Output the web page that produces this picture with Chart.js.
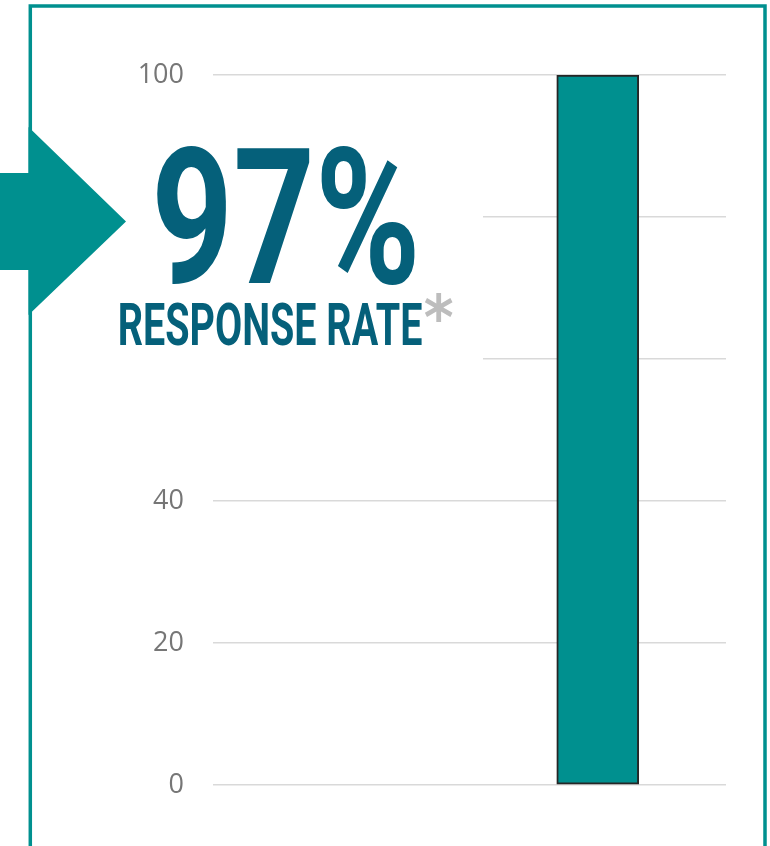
<!DOCTYPE html>
<html>
<head>
<meta charset="utf-8">
<title>Response rate</title>
<script src="https://cdn.jsdelivr.net/npm/chart.js@4/dist/chart.umd.min.js"></script>
<style>
    html, body { margin: 0; padding: 0; background: #fff; }
    #wrap { width: 770px; height: 846px; position: relative; }
</style>
</head>
<body>
<div id="wrap"><canvas id="chartRate"></canvas></div>
<script>
// ── Dati ──────────────────────────────────────
const categories     = ['', 'Response'];
const responseValues = [null, 100];
const yTickValues    = [0, 20, 40, 60, 80, 100];
const headlineValue  = '97%';
const headlineLabel  = 'RESPONSE RATE';
const headlineMark   = '*';

const TEAL      = '#00908f';
const DARK_TEAL = '#05607a';

// testo scalato per stare dentro un box (font condensato simulato)
function fitText(ctx, text, font, color, x0, y0, x1, y1) {
    ctx.save();
    ctx.font = font;
    ctx.textAlign = 'left';
    ctx.textBaseline = 'alphabetic';
    const m  = ctx.measureText(text);
    const w  = m.actualBoundingBoxLeft + m.actualBoundingBoxRight;
    const h  = m.actualBoundingBoxAscent + m.actualBoundingBoxDescent;
    const sx = (x1 - x0) / w;
    const sy = (y1 - y0) / h;
    ctx.translate(x0 + m.actualBoundingBoxLeft * sx, y0 + m.actualBoundingBoxAscent * sy);
    ctx.scale(sx, sy);
    ctx.fillStyle = color;
    ctx.fillText(text, 0, 0);
    ctx.restore();
}

// ── Overlay: cornice, freccia, titolo ─────────
const overlayPlugin = {
    id: 'overlay',
    afterDraw(chart) {
        const ctx = chart.ctx;
        ctx.save();

        // cornice
        ctx.strokeStyle = TEAL;
        ctx.lineWidth = 3.5;
        ctx.beginPath();
        ctx.moveTo(30.3, 900);
        ctx.lineTo(30.3, 6);
        ctx.lineTo(765, 6);
        ctx.lineTo(765, 900);
        ctx.stroke();

        // box bianco sotto il titolo
        ctx.fillStyle = '#fff';
        ctx.fillRect(33, 96, 450, 378);

        // freccia
        ctx.fillStyle = TEAL;
        ctx.beginPath();
        ctx.moveTo(0, 173);
        ctx.lineTo(28.5, 173);
        ctx.lineTo(28.5, 127);
        ctx.lineTo(126, 221.5);
        ctx.lineTo(28.5, 315);
        ctx.lineTo(28.5, 270);
        ctx.lineTo(0, 270);
        ctx.closePath();
        ctx.fill();
        ctx.restore();

        const f = '700 100px Roboto, Lato, "DejaVu Sans", sans-serif';
        fitText(ctx, headlineValue, f, DARK_TEAL, 157, 145, 415, 285);
        fitText(ctx, headlineLabel, f, DARK_TEAL, 120, 302, 422, 346);
        fitText(ctx, headlineMark, '700 100px "DejaVu Sans", sans-serif', '#bdbdbd', 425, 293, 453, 322);
    }
};

// ── Grafico ───────────────────────────────────
new Chart(document.getElementById('chartRate'), {
    type: 'bar',
    data: {
        labels: categories,
        datasets: [{
            data: responseValues,
            backgroundColor: TEAL,
            borderColor: '#262626',
            borderWidth: 2,
            borderSkipped: false,
            barThickness: 82
        }]
    },
    options: {
        responsive: true,
        maintainAspectRatio: false,
        animation: false,
        devicePixelRatio: 1,
        layout: { padding: { top: 75, right: 44, bottom: 61, left: 0 } },
        plugins: { legend: { display: false }, tooltip: { enabled: false } },
        scales: {
            x: { display: false },
            y: {
                min: 0, max: 100,
                afterFit: s => { s.width = 213; },
                afterBuildTicks: s => { s.ticks = yTickValues.map(v => ({ value: v })); },
                border: { display: false },
                grid: { color: '#d9d9d9', lineWidth: 1.5, drawTicks: false },
                ticks: {
                    padding: 29,
                    color: '#767676',
                    font: { family: '"Open Sans", sans-serif', size: 27 }
                }
            }
        }
    },
    plugins: [overlayPlugin]
});
</script>
</body>
</html>
